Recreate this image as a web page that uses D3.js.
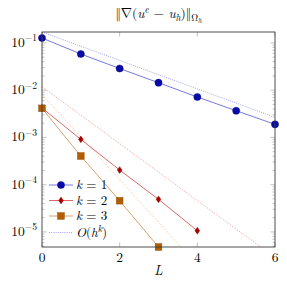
<!DOCTYPE html>
<html>
<head>
<meta charset="utf-8">
<script src="https://cdn.jsdelivr.net/npm/d3@7"></script>
<style>
  body { margin: 0; background: #fff; }
</style>
</head>
<body>
<div id="chart"></div>
<script>
// levels L and error values
const levels = [0, 1, 2, 3, 4, 5, 6];
const errK1 = [0.127, 0.0582, 0.0287, 0.01437, 0.00716, 0.00367, 0.00189];
const errK2 = [0.00419, 9.1e-4, 2.04e-4, 4.89e-5, 1.06e-5];
const errK3 = [0.00413, 4.04e-4, 4.57e-5, 4.8e-6];
// reference slopes O(h^k): value at L=0 and factor per level
const refStart = [0.170, 0.0118, 0.0082];
const refFactor = [2, 4, 8];
const xTicks = [0, 2, 4, 6];
const yDecades = [-1, -2, -3, -4, -5];

const width = 287, height = 284;
const margin = {top: 32, right: 12, bottom: 37, left: 42};
const serif = '"Latin Modern Roman", "Liberation Serif", serif';
const mathFont = '"Latin Modern Math", "Latin Modern Roman", "Liberation Serif", serif';

const svg = d3.select("#chart").append("svg")
    .attr("width", width)
    .attr("height", height);

const x = d3.scaleLinear()
    .domain([0, 6])
    .range([margin.left, width - margin.right]);

const y = d3.scaleLog()
    .domain([4.8e-6, 0.170])
    .range([height - margin.bottom, margin.top]);

const series = [
    {name: "k = 1", data: errK1, line: "#7878de", mark: "#0a0aa8", stroke: "#00007a", shape: "circle", ref: 0},
    {name: "k = 2", data: errK2, line: "#d86a6a", mark: "#aa0000", stroke: "#880000", shape: "diamond", ref: 1},
    {name: "k = 3", data: errK3, line: "#d9a26e", mark: "#b35c00", stroke: "#8a4600", shape: "square", ref: 2}
];
const refColors = ["#8a8aee", "#f08a8a", "#f2b888"];

svg.append("clipPath").attr("id", "clip")
  .append("rect")
    .attr("x", margin.left).attr("y", margin.top)
    .attr("width", width - margin.left - margin.right)
    .attr("height", height - margin.top - margin.bottom);

// ticks
const tickCol = "#9a9a9a";
const ticks = svg.append("g").attr("stroke", tickCol).attr("stroke-width", 0.6);
const minorVals = [];
for (let e = -6; e <= 0; e++) {
  for (let m = 2; m <= 9; m++) {
    const v = m * Math.pow(10, e);
    if (v >= y.domain()[0] && v <= y.domain()[1]) minorVals.push(v);
  }
}
minorVals.forEach(v => {
  ticks.append("line").attr("x1", margin.left).attr("x2", margin.left + 2.5).attr("y1", y(v)).attr("y2", y(v));
  ticks.append("line").attr("x1", width - margin.right).attr("x2", width - margin.right - 2.5).attr("y1", y(v)).attr("y2", y(v));
});
yDecades.forEach(e => {
  const v = Math.pow(10, e);
  ticks.append("line").attr("x1", margin.left).attr("x2", margin.left + 4.5).attr("y1", y(v)).attr("y2", y(v));
  ticks.append("line").attr("x1", width - margin.right).attr("x2", width - margin.right - 4.5).attr("y1", y(v)).attr("y2", y(v));
});
xTicks.forEach(t => {
  ticks.append("line").attr("x1", x(t)).attr("x2", x(t)).attr("y1", height - margin.bottom).attr("y2", height - margin.bottom - 4.5);
  ticks.append("line").attr("x1", x(t)).attr("x2", x(t)).attr("y1", margin.top).attr("y2", margin.top + 4.5);
});

// reference lines
const plot = svg.append("g").attr("clip-path", "url(#clip)");
const line = d3.line().x(d => x(d[0])).y(d => y(d[1]));
series.forEach(s => {
  const pts = levels.map(l => [l, refStart[s.ref] / Math.pow(refFactor[s.ref], l)]);
  plot.append("path")
      .attr("d", line(pts))
      .attr("fill", "none")
      .attr("stroke", refColors[s.ref])
      .attr("stroke-width", 0.8)
      .attr("stroke-dasharray", "1,1.2");
});

// data lines
series.forEach(s => {
  const pts = s.data.map((v, i) => [levels[i], v]);
  plot.append("path")
      .attr("d", line(pts))
      .attr("fill", "none")
      .attr("stroke", s.line)
      .attr("stroke-width", 1);
});

function drawMark(g, shape, cx, cy, s) {
  if (shape === "circle") {
    g.append("circle").attr("cx", cx).attr("cy", cy).attr("r", 3.6)
      .attr("fill", s.mark).attr("stroke", s.stroke).attr("stroke-width", 0.4);
  } else if (shape === "diamond") {
    g.append("path").attr("d", `M${cx},${cy - 3.4}L${cx + 2.4},${cy}L${cx},${cy + 3.4}L${cx - 2.4},${cy}Z`)
      .attr("fill", s.mark).attr("stroke", s.stroke).attr("stroke-width", 0.4);
  } else {
    g.append("rect").attr("x", cx - 3.3).attr("y", cy - 3.3).attr("width", 6.6).attr("height", 6.6)
      .attr("fill", s.mark).attr("stroke", s.stroke).attr("stroke-width", 0.5);
  }
}

const marks = svg.append("g");
series.forEach(s => {
  s.data.forEach((v, i) => drawMark(marks, s.shape, x(levels[i]), y(v), s));
});

// frame
svg.append("rect")
    .attr("x", margin.left).attr("y", margin.top)
    .attr("width", width - margin.left - margin.right)
    .attr("height", height - margin.top - margin.bottom)
    .attr("fill", "none")
    .attr("stroke", "#3a3a3a")
    .attr("stroke-width", 0.9);

// tick labels
svg.append("g").selectAll("text")
  .data(xTicks)
  .join("text")
    .attr("x", d => x(d))
    .attr("y", height - margin.bottom + 15)
    .attr("text-anchor", "middle")
    .style("font-family", serif)
    .attr("font-size", 13.5)
    .text(d => d);

const yl = svg.append("g").selectAll("text")
  .data(yDecades)
  .join("text")
    .attr("x", margin.left - 5)
    .attr("y", d => y(Math.pow(10, d)) + 4)
    .attr("text-anchor", "end")
    .style("font-family", serif)
    .attr("font-size", 13.5);
yl.append("tspan").text("10");
yl.append("tspan").attr("dy", -5.5).attr("font-size", 9.5).text(d => "\u2212" + (-d));

// axis label
svg.append("text")
    .attr("x", x(3))
    .attr("y", height - 9)
    .attr("text-anchor", "middle")
    .style("font-family", serif)
    .attr("font-size", 13.5)
    .attr("font-style", "italic")
    .text("L");

// title
const title = svg.append("text")
    .attr("x", x(3))
    .attr("y", 18)
    .attr("text-anchor", "middle")
    .style("font-family", serif)
    .attr("font-size", 13.5);
title.append("tspan").style("font-family", mathFont).text("\u2016\u2207");
title.append("tspan").text("(");
title.append("tspan").attr("font-style", "italic").text("u");
title.append("tspan").attr("font-style", "italic").attr("font-size", 9.5).attr("dy", -5).text("e");
title.append("tspan").attr("dy", 5).text(" \u2212 ");
title.append("tspan").attr("font-style", "italic").text("u");
title.append("tspan").attr("font-style", "italic").attr("font-size", 9.5).attr("dy", 3).text("h");
title.append("tspan").attr("dy", -3).text(")");
title.append("tspan").style("font-family", mathFont).text("\u2016");
title.append("tspan").attr("font-size", 9.5).attr("dy", 3).text("\u03A9");
title.append("tspan").attr("font-style", "italic").attr("font-size", 7).attr("dy", 1.5).text("h");

// legend
const legend = svg.append("g");
const legendTop = 185, legendStep = 15.5;
const lx0 = 49, lx1 = 73;
series.forEach((s, i) => {
  const ly = legendTop + i * legendStep;
  legend.append("line").attr("x1", lx0).attr("x2", lx1).attr("y1", ly).attr("y2", ly)
    .attr("stroke", s.line).attr("stroke-width", 1);
  drawMark(legend, s.shape, (lx0 + lx1) / 2, ly, s);
  const t = legend.append("text").attr("x", lx1 + 3).attr("y", ly + 4)
    .style("font-family", serif).attr("font-size", 13);
  t.append("tspan").attr("font-style", "italic").text("k");
  t.append("tspan").text(" = " + (i + 1));
});
{
  const ly = legendTop + 3 * legendStep + 1;
  legend.append("line").attr("x1", lx0).attr("x2", lx1).attr("y1", ly).attr("y2", ly)
    .attr("stroke", refColors[0]).attr("stroke-width", 0.8).attr("stroke-dasharray", "1,1.2");
  const t = legend.append("text").attr("x", lx1 + 3).attr("y", ly + 4)
    .style("font-family", serif).attr("font-size", 13);
  t.append("tspan").attr("font-style", "italic").text("O");
  t.append("tspan").text("(");
  t.append("tspan").attr("font-style", "italic").text("h");
  t.append("tspan").attr("font-style", "italic").attr("font-size", 9.5).attr("dy", -5).text("k");
  t.append("tspan").attr("dy", 5).text(")");
}
</script>
</body>
</html>
